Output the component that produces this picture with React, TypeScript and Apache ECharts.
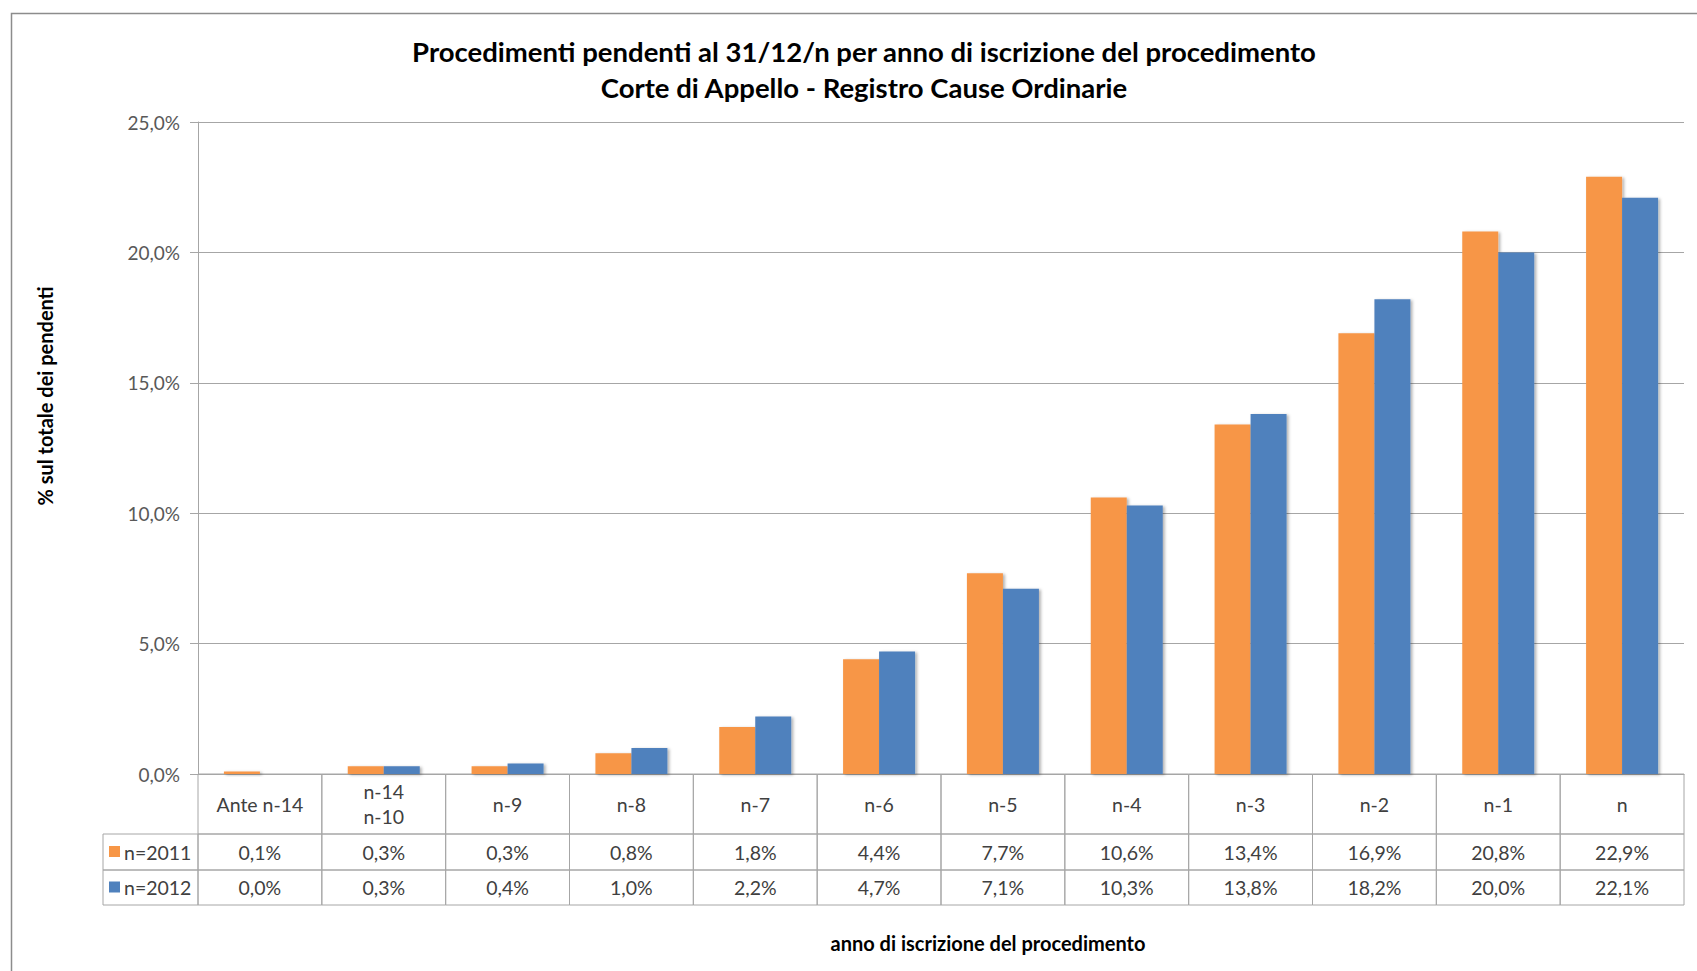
import React, { useEffect, useRef } from "react";
import * as echarts from "echarts";

const titleLines = [
  "Procedimenti pendenti al 31/12/n per anno di iscrizione del procedimento",
  "Corte di Appello - Registro Cause Ordinarie",
];
const yAxisName = "% sul totale dei pendenti";
const xAxisName = "anno di iscrizione del procedimento";
const categories = ["Ante n-14", "n-14\nn-10", "n-9", "n-8", "n-7", "n-6", "n-5", "n-4", "n-3", "n-2", "n-1", "n"];
const seriesNames = ["n=2011", "n=2012"];
const values2011 = [0.1, 0.3, 0.3, 0.8, 1.8, 4.4, 7.7, 10.6, 13.4, 16.9, 20.8, 22.9];
const values2012 = [0.0, 0.3, 0.4, 1.0, 2.2, 4.7, 7.1, 10.3, 13.8, 18.2, 20.0, 22.1];
const yTicks = [0, 5, 10, 15, 20, 25];

const COLORS = ["#F79646", "#4F81BD"];
const FONT = "Lato, 'Noto Sans', sans-serif";
const GRID_COLOR = "#A6A6A6";

const W = 1697;
const H = 971;
const PLOT_LEFT = 198;
const PLOT_RIGHT = 1684;
const PLOT_TOP = 122;
const PLOT_BOTTOM = 774;
const ROW1 = 60; // category row height
const ROW2 = 36;
const ROW3 = 35;
const TABLE_H = ROW1 + ROW2 + ROW3;
const LEGEND_LEFT = 103;

const fmt = (v: number) => v.toFixed(1).replace(".", ",") + "%";

export default function App() {
  const ref = useRef<HTMLDivElement>(null);
  useEffect(() => {
    if (!ref.current) return;
    const chart = echarts.init(ref.current, null, { renderer: "svg" });
    const barShadow = {
      shadowBlur: 3,
      shadowOffsetX: 2,
      shadowOffsetY: 1,
      shadowColor: "rgba(0,0,0,0.3)",
    };
    const labelFont = `19.5px ${FONT}`;
    const option: any = {
      animation: false,
      backgroundColor: "#fff",
      grid: [
        { left: PLOT_LEFT, width: PLOT_RIGHT - PLOT_LEFT, top: PLOT_TOP, height: PLOT_BOTTOM - PLOT_TOP },
        { left: PLOT_LEFT, width: PLOT_RIGHT - PLOT_LEFT, top: PLOT_BOTTOM, height: TABLE_H },
      ],
      xAxis: [
        {
          type: "category",
          gridIndex: 0,
          data: categories,
          axisLabel: { show: false },
          axisTick: { show: false },
          axisLine: { show: true, lineStyle: { color: GRID_COLOR, width: 1 } },
        },
        {
          type: "category",
          gridIndex: 1,
          data: categories,
          show: false,
        },
      ],
      yAxis: [
        {
          type: "value",
          gridIndex: 0,
          min: 0,
          max: yTicks[yTicks.length - 1],
          interval: yTicks[1] - yTicks[0],
          axisLine: { show: true, lineStyle: { color: GRID_COLOR, width: 1 } },
          axisTick: { show: true, length: 8, lineStyle: { color: GRID_COLOR } },
          splitLine: { show: true, lineStyle: { color: GRID_COLOR, width: 1 } },
          axisLabel: {
            formatter: (v: number) => fmt(v),
            color: "#595959",
            fontFamily: FONT,
            fontSize: 19,
            margin: 18,
          },
        },
        {
          type: "value",
          gridIndex: 1,
          min: 0,
          max: TABLE_H,
          inverse: true,
          show: false,
        },
      ],
      series: [
        {
          name: seriesNames[0],
          type: "bar",
          xAxisIndex: 0,
          yAxisIndex: 0,
          data: values2011,
          barWidth: 36,
          barGap: "0%",
          itemStyle: { color: COLORS[0], ...barShadow },
        },
        {
          name: seriesNames[1],
          type: "bar",
          xAxisIndex: 0,
          yAxisIndex: 0,
          data: values2012,
          barWidth: 36,
          barGap: "0%",
          itemStyle: { color: COLORS[1], ...barShadow },
        },
        {
          type: "custom",
          xAxisIndex: 1,
          yAxisIndex: 1,
          data: categories.map((c, i) => [i, values2011[i], values2012[i]]),
          encode: { x: 0 },
          renderItem: (params: any, api: any) => {
            const i = api.value(0);
            const cx = api.coord([i, 0])[0];
            const w = api.size([1, 0])[0];
            const x0 = cx - w / 2;
            const yA = api.coord([i, 0])[1];
            const yB = api.coord([i, ROW1])[1];
            const yC = api.coord([i, ROW1 + ROW2])[1];
            const yD = api.coord([i, TABLE_H])[1];
            const cellStyle = { fill: "none", stroke: GRID_COLOR, lineWidth: 1 };
            const txt = (text: string, y: number) => ({
              type: "text",
              style: {
                text,
                x: cx,
                y,
                align: "center",
                verticalAlign: "middle",
                font: labelFont,
                fill: "#404040",
                lineHeight: 25,
              },
            });
            return {
              type: "group",
              children: [
                { type: "rect", shape: { x: x0, y: yA, width: w, height: yB - yA }, style: cellStyle },
                { type: "rect", shape: { x: x0, y: yB, width: w, height: yC - yB }, style: cellStyle },
                { type: "rect", shape: { x: x0, y: yC, width: w, height: yD - yC }, style: cellStyle },
                txt(categories[i], (yA + yB) / 2),
                txt(fmt(api.value(1)), (yB + yC) / 2),
                txt(fmt(api.value(2)), (yC + yD) / 2),
              ],
            };
          },
        },
      ],
      graphic: [
        {
          type: "rect",
          shape: { x: 11.5, y: 13.5, width: W + 50, height: H + 50 },
          style: { fill: "none", stroke: "#8C8C8C", lineWidth: 1.5 },
          silent: true,
        },
        {
          type: "text",
          style: {
            text: titleLines.join("\n"),
            x: 864,
            y: 69,
            align: "center",
            verticalAlign: "middle",
            font: `bold 27.5px ${FONT}`,
            fill: "#000",
            lineHeight: 36,
          },
        },
        {
          type: "text",
          rotation: Math.PI / 2,
          x: 45,
          y: 396,
          style: {
            text: yAxisName,
            x: 0,
            y: 0,
            align: "center",
            verticalAlign: "middle",
            font: `bold 20px ${FONT}`,
            fill: "#000",
          },
        },
        {
          type: "text",
          style: {
            text: xAxisName,
            x: 988,
            y: 943,
            align: "center",
            verticalAlign: "middle",
            font: `bold 20px ${FONT}`,
            fill: "#000",
          },
        },
        ...seriesNames.flatMap((name, k) => {
          const top = PLOT_BOTTOM + ROW1 + (k === 0 ? 0 : ROW2);
          const h = k === 0 ? ROW2 : ROW3;
          return [
            {
              type: "rect",
              shape: { x: LEGEND_LEFT, y: top, width: PLOT_LEFT - LEGEND_LEFT, height: h },
              style: { fill: "none", stroke: GRID_COLOR, lineWidth: 1 },
            },
            {
              type: "rect",
              shape: { x: 109, y: top + h / 2 - 6, width: 11, height: 11 },
              style: { fill: COLORS[k] },
            },
            {
              type: "text",
              style: {
                text: name,
                x: 124,
                y: top + h / 2,
                align: "left",
                verticalAlign: "middle",
                font: labelFont,
                fill: "#404040",
              },
            },
          ];
        }),
      ],
    };
    chart.setOption(option);
    return () => chart.dispose();
  }, []);
  return (
    <div
      ref={ref}
      style={{ position: "fixed", left: 0, top: 0, width: W, height: H }}
    />
  );
}
